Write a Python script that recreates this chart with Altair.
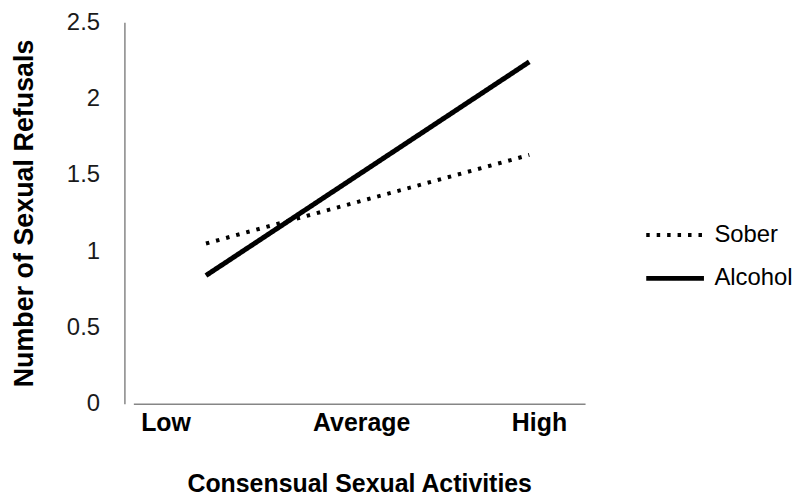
import altair as alt
import pandas as pd

levels = ["Low", "Average", "High"]
level_pos = [1, 2, 3]
sober = [1.05, 1.34, 1.63]
alcohol = [0.84, 1.54, 2.24]
tick_pos = [0.75, 1.96, 3.06]
y_ticks = [0, 0.5, 1, 1.5, 2, 2.5]
series_names = ["Sober", "Alcohol"]

rows = []
for name, vals in zip(series_names, [sober, alcohol]):
    for lv, p, v in zip(levels, level_pos, vals):
        rows.append({"series": name, "level": lv, "pos": p, "value": v})
df = pd.DataFrame(rows)

FONT = "Liberation Sans"
GRAY = "#868686"

chart = alt.Chart(df).mark_line(strokeCap="butt", color="black").encode(
    x=alt.X(
        "pos:Q",
        scale=alt.Scale(domain=[0.551, 3.345], nice=False, zero=False),
        axis=alt.Axis(
            values=tick_pos,
            labelExpr="datum.value < 1.5 ? 'Low' : (datum.value < 2.5 ? 'Average' : 'High')",
            title="Consensual Sexual Activities",
            grid=False, ticks=False, tickSize=0,
            domainColor=GRAY, domainWidth=1.5,
            labelFont=FONT, labelFontSize=25, labelFontWeight="bold", labelColor="#000000",
            labelPadding=7, labelFlush=False,
            titleFont=FONT, titleFontSize=25, titleFontWeight="bold", titleColor="#000000",
            titlePadding=36,
        ),
    ),
    y=alt.Y(
        "value:Q",
        scale=alt.Scale(domain=[0, 2.5], nice=False),
        axis=alt.Axis(
            values=y_ticks, format="~g",
            title="Number of Sexual Refusals",
            grid=False, ticks=False, tickSize=0, offset=9,
            domainColor=GRAY, domainWidth=1.5,
            labelFont=FONT, labelFontSize=24, labelColor="#1a1a1a",
            labelPadding=25,
            titleFont=FONT, titleFontSize=27, titleFontWeight="bold", titleColor="#000000",
            titlePadding=28,
        ),
    ),
    strokeDash=alt.StrokeDash(
        "series:N",
        scale=alt.Scale(domain=series_names, range=[[3.5, 7.0], [1, 0]]),
        legend=alt.Legend(
            title=None, orient="none", legendX=513, legendY=183,
            symbolType="stroke", symbolSize=3364, symbolStrokeWidth=4.5,
            symbolStrokeColor="black",
            labelFont=FONT, labelFontSize=24, labelColor="#000000",
            labelOffset=8, rowPadding=-3,
        ),
    ),
    strokeWidth=alt.StrokeWidth(
        "series:N",
        scale=alt.Scale(domain=series_names, range=[4, 5]),
        legend=None,
    ),
).properties(
    width=454,
    height=383.5,
    autosize=alt.AutoSizeParams(type="none"),
    padding={"left": 126, "top": 13, "right": 208, "bottom": 91.5},
).configure_view(strokeWidth=0)

chart.save("out.html", embed_options={"renderer": "svg", "actions": False})
